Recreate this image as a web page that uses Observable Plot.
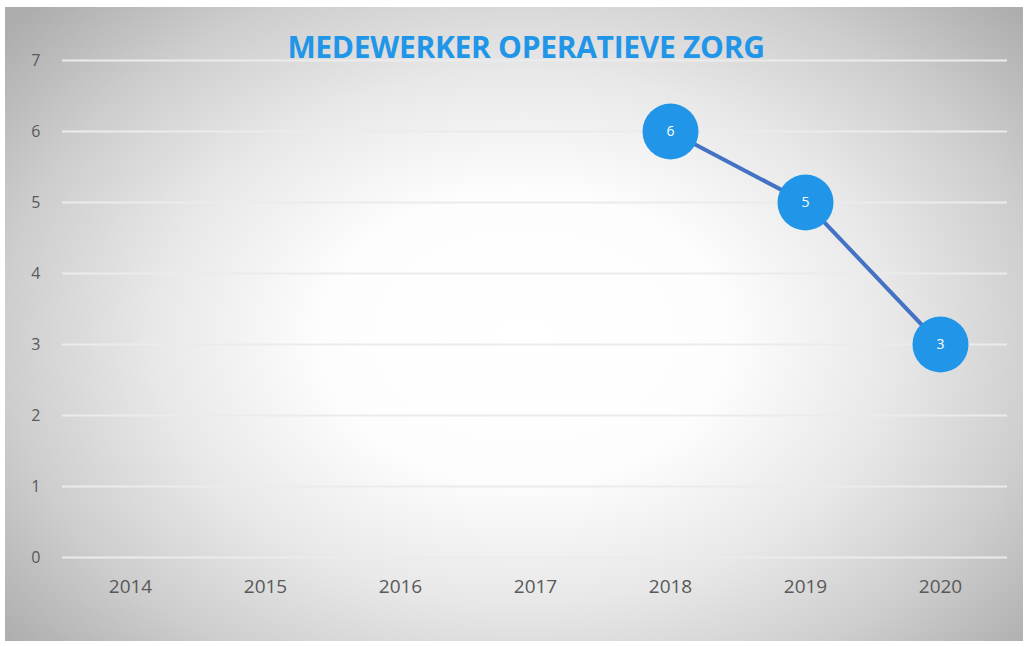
<!DOCTYPE html>
<html>
<head>
<meta charset="utf-8">
<script src="https://cdn.jsdelivr.net/npm/d3@7"></script>
<script src="https://cdn.jsdelivr.net/npm/@observablehq/plot@0.6"></script>
<style>
  html, body { margin: 0; padding: 0; background: #ffffff; }
  #frame {
    position: absolute; left: 5px; top: 7px; width: 1018px; height: 634px;
    background: radial-gradient(ellipse 66% 76% at 51% 52%, #ffffff 0%, #fdfdfd 30%, #e8e8e8 55%, #cdcdcd 78%, #adadad 100%);
    overflow: hidden;
  }
  #title {
    position: absolute; left: 0; width: 1042px; top: 19px; text-align: center;
    font-family: "Open Sans", sans-serif; font-weight: 700; font-size: 30px;
    color: #2196e8; letter-spacing: -0.3px;
  }
  #chart { position: absolute; left: 0; top: 0; }
</style>
</head>
<body>
<div id="frame">
  <div id="chart"></div>
  <div id="title">MEDEWERKER OPERATIEVE ZORG</div>
</div>
<script>
const years = ["2014", "2015", "2016", "2017", "2018", "2019", "2020"];
const seriesYears = ["2018", "2019", "2020"];
const seriesValues = [6, 5, 3];
const yTicks = [0, 1, 2, 3, 4, 5, 6, 7];

const data = seriesYears.map((y, i) => ({year: y, value: seriesValues[i]}));

const plot = Plot.plot({
  width: 1018,
  height: 634,
  marginLeft: 57,
  marginRight: 16,
  marginTop: 53,
  marginBottom: 84,
  style: {background: "transparent", fontFamily: "Open Sans, sans-serif"},
  x: {type: "point", domain: years, padding: 0.5, label: null},
  y: {domain: [0, 7], label: null},
  marks: [
    Plot.ruleY(yTicks, {stroke: "#ebebeb", strokeWidth: 2}),
    Plot.axisY({ticks: yTicks, tickFormat: d3.format("d"), tickSize: 0, tickPadding: 22, fontSize: 16, color: "#595959", label: null}),
    Plot.axisX({tickSize: 0, tickPadding: 22, fontSize: 19, color: "#595959", label: null}),
    Plot.line(data, {x: "year", y: "value", stroke: "#4472c4", strokeWidth: 4}),
    Plot.dot(data, {x: "year", y: "value", r: 28, fill: "#2196e8", stroke: "none"}),
    Plot.text(data, {x: "year", y: "value", text: d => String(d.value), fill: "#ffffff", fontSize: 14})
  ]
});
document.getElementById("chart").appendChild(plot);
</script>
</body>
</html>
